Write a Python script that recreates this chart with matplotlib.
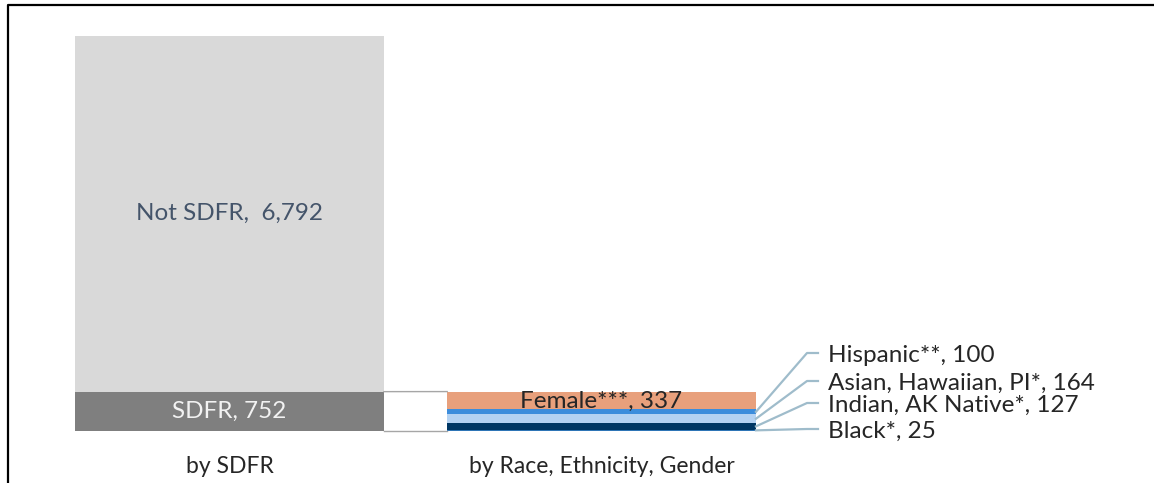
import matplotlib
matplotlib.use("Agg")
import matplotlib.pyplot as plt
from matplotlib.lines import Line2D
import numpy as np

# ---- data ----
categories = ["by SDFR", "by Race, Ethnicity, Gender"]
sdfr_names = ["SDFR", "Not SDFR"]
sdfr_values = [752, 6792]
group_names = ["Black*", "Indian, AK Native*", "Asian, Hawaiian, PI*", "Hispanic**", "Female***"]
group_values = [25, 127, 164, 100, 337]

plt.rcParams['font.family'] = ['Lato', 'DejaVu Sans']

W, H = 1154, 483
fig = plt.figure(figsize=(W / 100, H / 100), dpi=100)
ax = fig.add_axes([0, 0, 1, 1])
ax.set_axis_off()

bar_w = 0.83
x_left, x_right = 0, 1
ax.set_xlim(-0.617, 2.485)
ax.set_ylim(-993, 8232)

FS = 17.5

# left stacked bar
sdfr_colors = ["#7f7f7f", "#d9d9d9"]
sdfr_text = ["#f2f2f2", "#44546a"]
sdfr_labels = ["SDFR, {:,}", "Not SDFR,  {:,}"]
bottom = 0
for v, c, tc, lab in zip(sdfr_values, sdfr_colors, sdfr_text, sdfr_labels):
    ax.bar(x_left, v, bottom=bottom, width=bar_w, color=c, edgecolor='none')
    ax.text(x_left, bottom + v / 2, lab.format(v), ha='center', va='center',
            color=tc, fontsize=FS)
    bottom += v

# right stacked bar
group_colors = ["#2e75b6", "#003764", "#b4d2f2", "#3c8ddc", "#e8a07c"]
bottom = 0
mids = []
for v, c in zip(group_values, group_colors):
    ax.bar(x_right, v, bottom=bottom, width=bar_w, color=c, edgecolor='none')
    mids.append(bottom + v / 2)
    bottom += v
ax.text(x_right, mids[-1] - 20, f"{group_names[-1]}, {group_values[-1]}",
        ha='center', va='center', color='#262626', fontsize=FS)

# connector lines between bars
conn_color = '#a6a6a6'
ax.plot([x_left + bar_w / 2, x_right - bar_w / 2], [sdfr_values[0], sum(group_values)],
        color=conn_color, lw=1.0)
ax.plot([x_left + bar_w / 2, x_right - bar_w / 2], [0, 0], color=conn_color, lw=1.0)

# leader lines & labels for small segments (pixel placement)
label_y_px = [429, 403, 381, 353]  # from top
elbow_x, end_x, text_x = 807, 818, 828
lead_color = '#9fbccb'
for i in range(4):
    xd, yd = ax.transData.transform((x_right + bar_w / 2, mids[i]))
    ly = H - label_y_px[i]
    line = Line2D([xd, elbow_x, end_x], [yd, ly, ly], transform=None,
                  color=lead_color, lw=1.6)
    fig.add_artist(line)
    fig.text(text_x / W, (ly - 2) / H, f"{group_names[i]}, {group_values[i]}",
             ha='left', va='center', color='#262626', fontsize=FS)

# category labels
for xc, cat in zip([x_left, x_right], categories):
    ax.text(xc, -680, cat, ha='center', va='center', color='#262626', fontsize=16.5)

# outer frame (left and top visible)
fig.add_artist(Line2D([7.5 / W, 7.5 / W, 1.0], [0, (H - 4.5) / H, (H - 4.5) / H],
                      transform=fig.transFigure, color='black', lw=1.6))

fig.savefig("out.png", dpi=100)
